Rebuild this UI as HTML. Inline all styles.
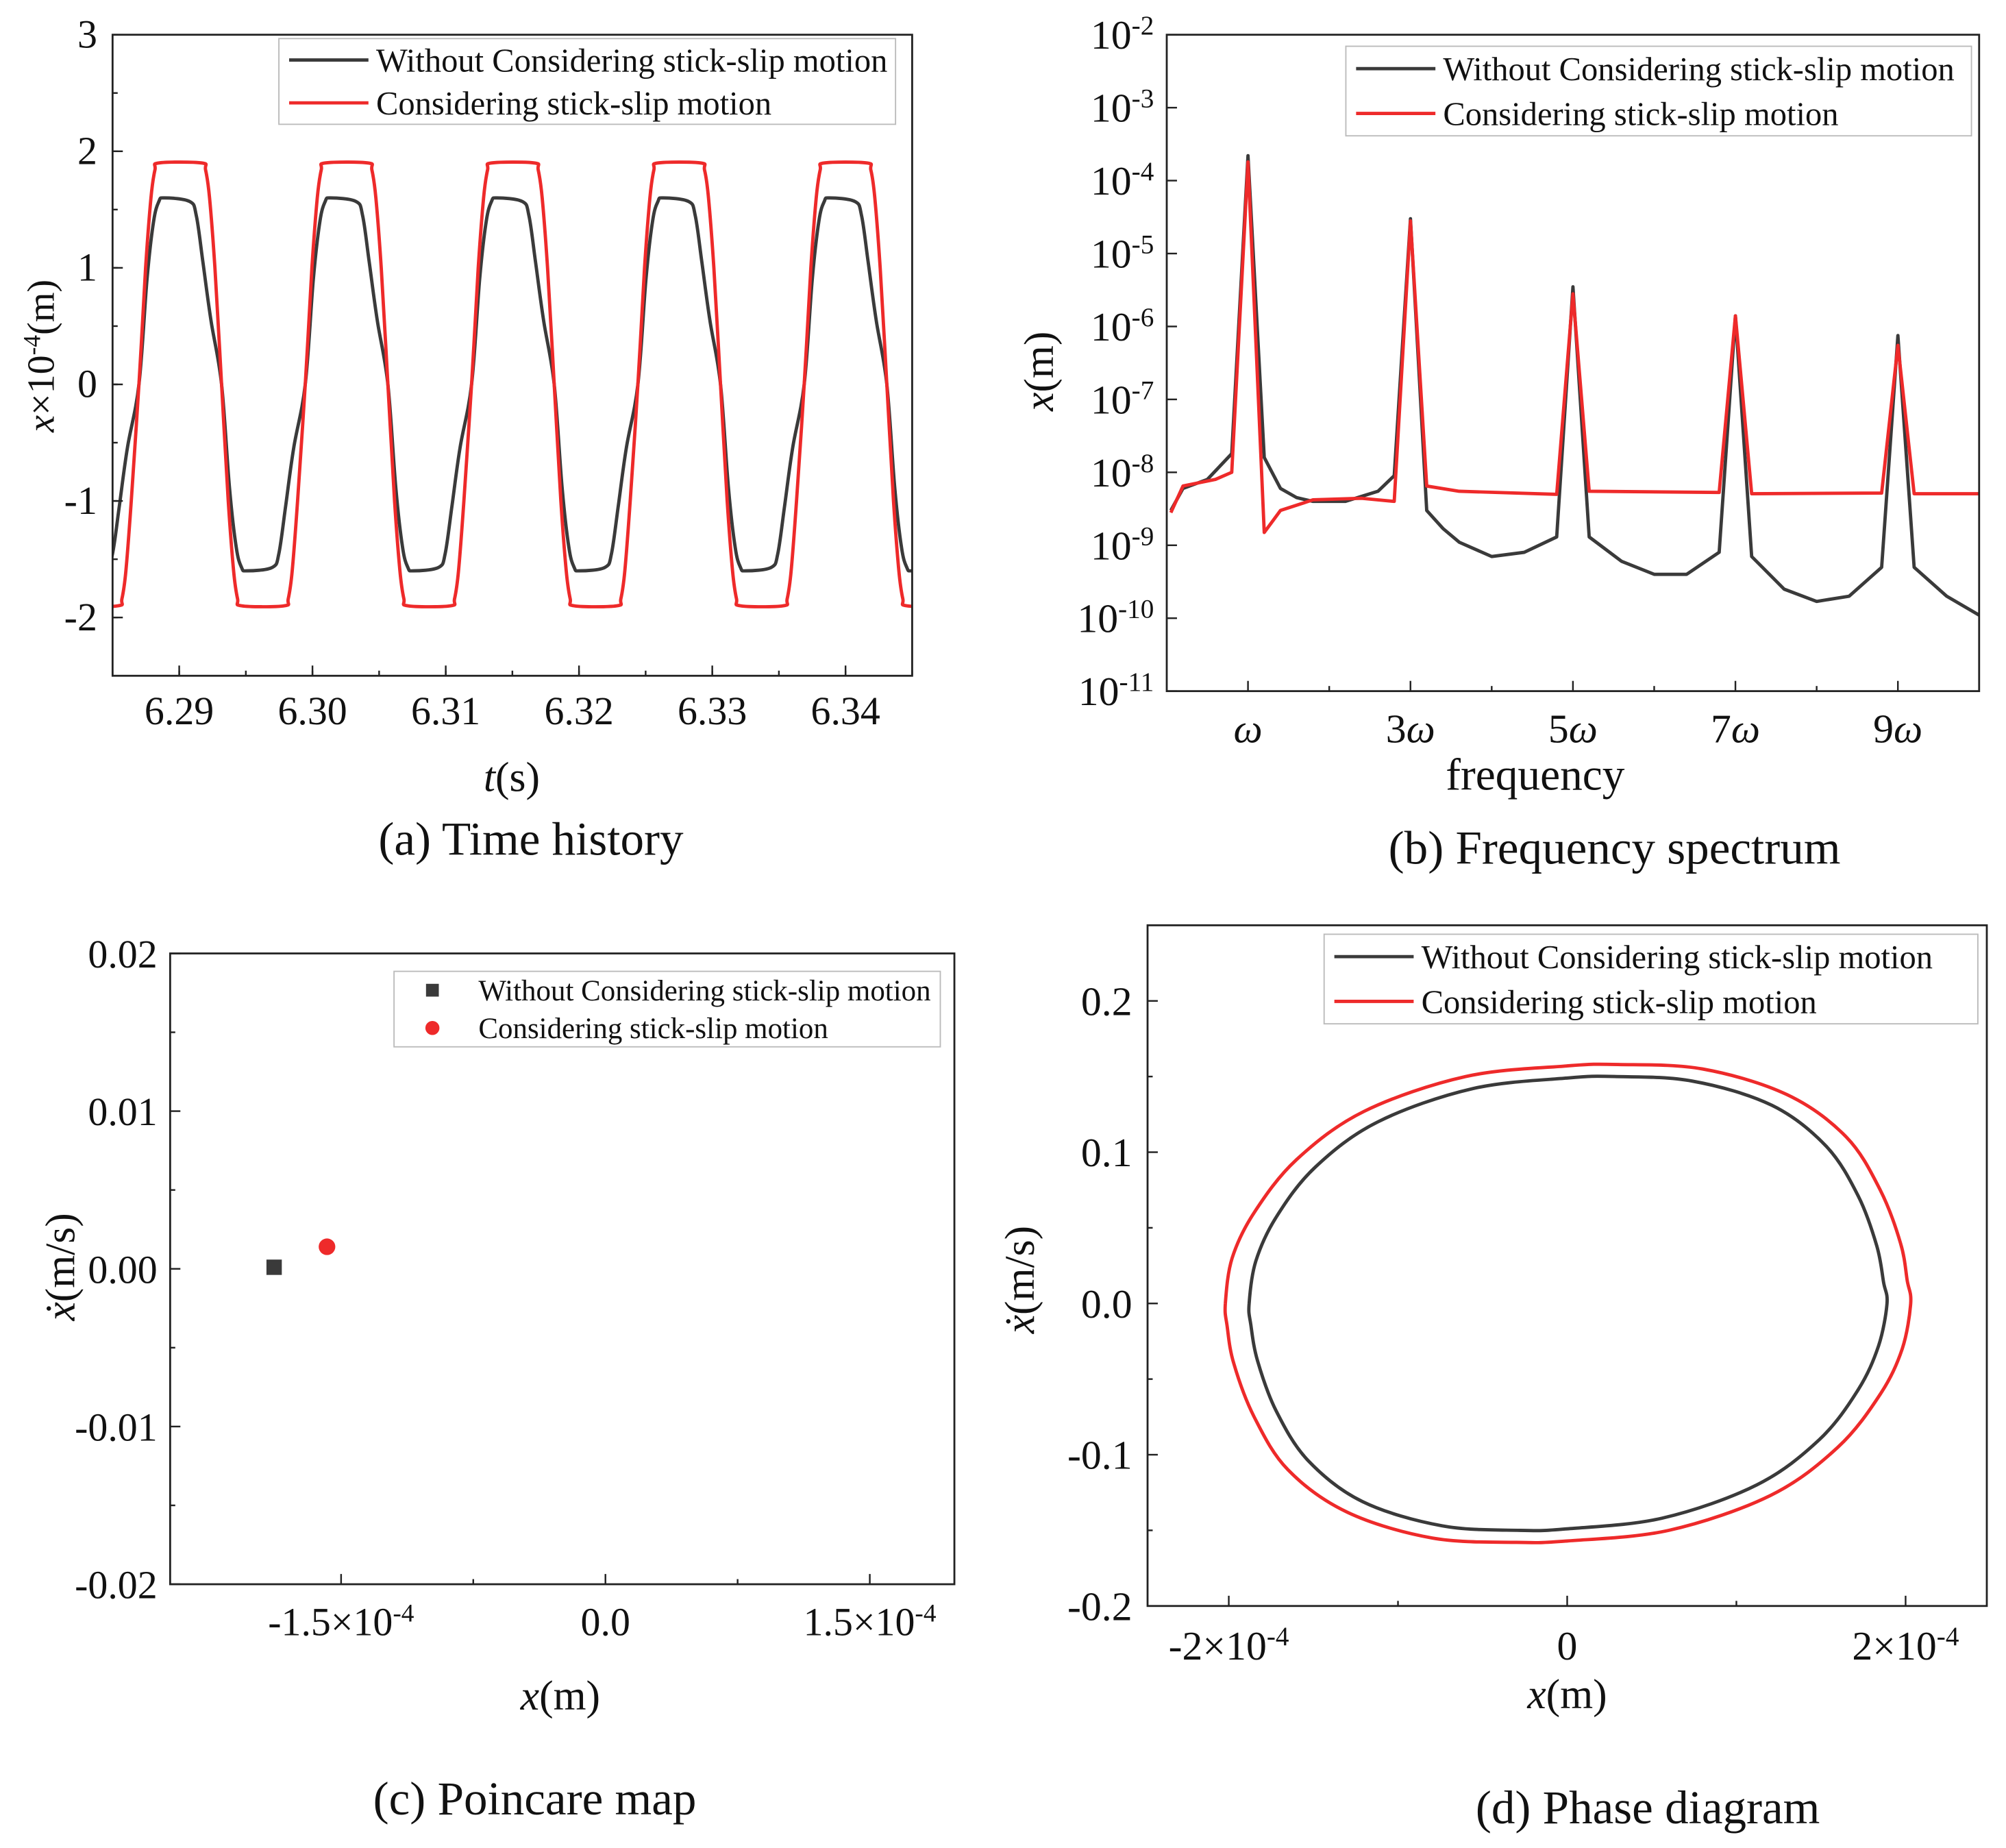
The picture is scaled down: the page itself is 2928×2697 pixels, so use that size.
<!DOCTYPE html>
<html><head><meta charset="utf-8"><style>
html,body{margin:0;padding:0;background:#fff}
svg{display:block}
text{font-family:"Liberation Serif",serif;fill:#111}
</style></head><body>
<svg id="fig" width="2928" height="2697" viewBox="0 0 1568 1444" xmlns="http://www.w3.org/2000/svg"></svg>
<script>
// ---- Panel (a) time history: one cycle shape, repeated by period ----
const aPeriod = 0.01248;
const aStart = 6.2745;
const aCycleT = [0,0.0005,0.0009,0.0012,0.0015,0.0047,0.0050,0.0053,0.0057,0.0062,0.0067,0.0071,0.0074,0.0077,0.0109,0.0112,0.0115,0.0119,0.01248];
const aRedV   = [0,1.0,1.6,1.84,1.9,1.9,1.84,1.6,1.0,0,-1.0,-1.6,-1.84,-1.9,-1.9,-1.84,-1.6,-1.0,0];
const aBlkT   = [0,0.0006,0.0011,0.0015,0.0019,0.0038,0.0043,0.0048,0.0054,0.0062,0.0068,0.0073,0.0077,0.0081,0.0100,0.0105,0.0110,0.0116,0.01248];
const aBlkV   = [0,0.9,1.4,1.57,1.6,1.57,1.45,1.05,0.55,0,-0.9,-1.4,-1.57,-1.6,-1.57,-1.45,-1.05,-0.55,0];
const aXTicks = [6.29,6.30,6.31,6.32,6.33,6.34];
const aYTicks = [-2,-1,0,1,2,3];
// ---- Panel (b) frequency spectrum ----
const bBlkF = [0.05,0.2,0.5,0.8,1.0,1.2,1.4,1.6,1.8,2.2,2.6,2.8,3.0,3.2,3.4,3.6,4.0,4.4,4.8,5.0,5.2,5.6,6.0,6.4,6.8,7.0,7.2,7.6,8.0,8.4,8.8,9.0,9.2,9.6,10];
const bBlkA = [3e-9,6e-9,8e-9,1.8e-8,2.2e-4,1.6e-8,6e-9,4.5e-9,4e-9,4e-9,5.5e-9,9e-9,3e-5,3e-9,1.7e-9,1.1e-9,7e-10,8e-10,1.3e-9,3.5e-6,1.3e-9,6e-10,4e-10,4e-10,8e-10,1.4e-6,7e-10,2.5e-10,1.7e-10,2e-10,5e-10,7.5e-7,5e-10,2e-10,1.1e-10];
const bRedF = [0.05,0.2,0.6,0.8,1.0,1.2,1.4,1.8,2.4,2.8,3.0,3.2,3.6,4.8,5.0,5.2,6.8,7.0,7.2,8.8,9.0,9.2,10];
const bRedA = [2.8e-9,6.5e-9,8e-9,1e-8,1.8e-4,1.5e-9,3e-9,4.2e-9,4.4e-9,4e-9,2.8e-5,6.5e-9,5.5e-9,5e-9,2.8e-6,5.5e-9,5.3e-9,1.4e-6,5.1e-9,5.2e-9,5.5e-7,5.1e-9,5.1e-9];
const bXTicks = [1,3,5,7,9];
const bXLabels = ["ω","3ω","5ω","7ω","9ω"];
const bYExp = [-11,-10,-9,-8,-7,-6,-5,-4,-3,-2];
// ---- Panel (c) Poincare ----
const cBlk = [-1.88e-4, 0.0001];
const cRed = [-1.58e-4, 0.0014];
const cXTicks = [-1.5e-4,0,1.5e-4];
const cXLabels = ["-1.5×10","0.0","1.5×10"];
const cYTicks = [-0.02,-0.01,0,0.01,0.02];
const cYLabels = ["-0.02","-0.01","0.00","0.01","0.02"];
// ---- Panel (d) phase diagram (upper arcs; lower arcs point-symmetric) ----
const dRedX = [-2.02,-1.98,-1.85,-1.6,-1.2,-0.6,0,0.3,0.8,1.3,1.65,1.85,1.97,2.01,2.03];
const dRedV = [0,0.03,0.06,0.095,0.127,0.15,0.157,0.158,0.155,0.138,0.11,0.075,0.04,0.015,0];
const dBlkX = [-1.88,-1.84,-1.72,-1.49,-1.12,-0.56,0,0.28,0.74,1.21,1.53,1.72,1.83,1.87,1.89];
const dBlkV = [0,0.028,0.057,0.09,0.12,0.142,0.149,0.15,0.147,0.131,0.104,0.071,0.038,0.014,0];
const dXTicks = [-2,0,2];
const dYTicks = [-0.2,-0.1,0,0.1,0.2];
const dYLabels = ["-0.2","-0.1","0.0","0.1","0.2"];

const NS="http://www.w3.org/2000/svg";
const svg=document.getElementById('fig');
function el(tag,attrs,parent,txt){const e=document.createElementNS(NS,tag);for(const k in attrs)e.setAttribute(k,attrs[k]);if(txt!==undefined)e.textContent=txt;(parent||svg).appendChild(e);return e;}
function grp(name){const g=el('g',{});


return g;}
function box(g,x0,y0,x1,y1){const r=el('rect',{x:x0,y:y0,width:x1-x0,height:y1-y0,fill:'none',stroke:'#222','stroke-width':1.5},g);

}
function tick(g,x1,y1,x2,y2){el('line',{x1,y1,x2,y2,stroke:'#222','stroke-width':1.3},g);}
function label(g,x,y,t,size,anchor,name,extra){const e=el('text',Object.assign({x,y,'font-size':size,'text-anchor':anchor||'middle'},extra||{}),g,t);

return e;}
function poly(g,pts,color,name,w){const p=el('polyline',{points:pts.map(p=>p[0].toFixed(1)+','+p[1].toFixed(1)).join(' '),fill:'none',stroke:color,'stroke-width':w||2.6,'stroke-linejoin':'round'},g);

}
function smooth(g,pts,color,name,closed){let d='M'+pts[0][0].toFixed(1)+','+pts[0][1].toFixed(1);const n=pts.length;
const P=i=>closed?pts[(i+n)%n]:pts[Math.max(0,Math.min(n-1,i))];
const last=closed?n:n-1;
for(let i=0;i<last;i++){const p0=P(i-1),p1=P(i),p2=P(i+1),p3=P(i+2);
const c1=[p1[0]+(p2[0]-p0[0])/6,p1[1]+(p2[1]-p0[1])/6],c2=[p2[0]-(p3[0]-p1[0])/6,p2[1]-(p3[1]-p1[1])/6];
d+=' C'+c1.map(v=>v.toFixed(1)).join(',')+' '+c2.map(v=>v.toFixed(1)).join(',')+' '+p2[0].toFixed(1)+','+p2[1].toFixed(1);}
const p=el('path',{d,fill:'none',stroke:color,'stroke-width':2.6,'stroke-linejoin':'round'},g);

}
function legend(g,x0,y0,x1,y1,rows,fs,lineLen,markers){const r=el('rect',{x:x0,y:y0,width:x1-x0,height:y1-y0,fill:'#fff',stroke:'#bbb','stroke-width':1},g);


const h=(y1-y0)/rows.length;
rows.forEach((row,i)=>{const cy=y0+h*(i+0.5);const lg=el('g',{},g);


if(markers){if(row[2]==='sq')el('rect',{x:x0+25,y:cy-5,width:10,height:10,fill:row[1]},lg);else el('circle',{cx:x0+30,cy:cy,r:5.5,fill:row[1]},lg);}
else el('line',{x1:x0+8,y1:cy,x2:x0+8+lineLen,y2:cy,stroke:row[1],'stroke-width':2.6},lg);
el('text',{x:x0+(markers?66:lineLen+14),y:cy+fs*0.35,'font-size':fs},lg,row[0]);});}
const BLK='#3a3a3a',RED='#ee2a2a';
const TK=31, AX=33, CAP=37;

// ===== Panel A =====
(function(){const g=grp('panel-a-time-history');
const X0=88,X1=713,Y0=27,Y1=528,tmin=6.285,tmax=6.345,vmin=-2.5,vmax=3;
const sx=t=>X0+(t-tmin)/(tmax-tmin)*(X1-X0), sy=v=>Y1-(v-vmin)/(vmax-vmin)*(Y1-Y0);
function series(T,V){const pts=[];for(let k=0;k<7;k++){T.forEach((t,i)=>{if(k>0&&i===0)return;pts.push([aStart+k*aPeriod+t,V[i]]);});}
return pts.map(p=>[sx(p[0]),sy(p[1])]);}
const cp=el('clipPath',{id:'clipA'},g);el('rect',{x:X0,y:Y0,width:X1-X0,height:Y1-Y0},cp);
const inner=el('g',{'clip-path':'url(#clipA)'},g);
smooth(inner,series(aBlkT,aBlkV),BLK,'series-without-stick-slip');
smooth(inner,series(aCycleT,aRedV),RED,'series-with-stick-slip');
box(g,X0,Y0,X1,Y1);
aXTicks.forEach(t=>{tick(g,sx(t),Y1,sx(t),Y1-8);label(g,sx(t),Y1+38,t.toFixed(2),TK,'middle','x-tick-label');});
for(let t=6.285;t<6.345;t+=0.005){tick(g,sx(t),Y1,sx(t),Y1-4);}
aYTicks.forEach(v=>{tick(g,X0,sy(v),X0+8,sy(v));label(g,X0-12,sy(v)+10,String(v),TK,'end','y-tick-label');});
for(let v=-2.5;v<=3;v+=0.5){tick(g,X0,sy(v),X0+4,sy(v));}
const yl=label(g,0,0,'',30,'middle','y-axis-title',{transform:'translate(42,278) rotate(-90)'});
yl.innerHTML='<tspan font-style="italic">x</tspan>×10<tspan baseline-shift="super" font-size="19">-4</tspan>(m)';
const xl=label(g,400,618,'',AX,'middle','x-axis-title');xl.innerHTML='<tspan font-style="italic">t</tspan>(s)';
legend(g,218,30,700,97,[['Without Considering stick-slip motion',BLK],['Considering stick-slip motion',RED]],26,62);
label(g,415,668,'(a) Time history',CAP,'middle','panel-a-caption');})();

// ===== Panel B =====
(function(){const g=grp('panel-b-frequency-spectrum');
const X0=912,X1=1547,Y0=27,Y1=540,fmin=0,fmax=10,emin=-11,emax=-2;
const sx=f=>X0+(f-fmin)/(fmax-fmin)*(X1-X0), sy=a=>Y1-(Math.log10(a)-emin)/(emax-emin)*(Y1-Y0);
poly(g,bBlkF.map((f,i)=>[sx(f),sy(bBlkA[i])]),BLK,'series-without-stick-slip');
poly(g,bRedF.map((f,i)=>[sx(f),sy(bRedA[i])]),RED,'series-with-stick-slip');
box(g,X0,Y0,X1,Y1);
bXTicks.forEach((f,i)=>{tick(g,sx(f),Y1,sx(f),Y1-8);label(g,sx(f),Y1+40,'',32,'middle','x-tick-label').innerHTML=bXLabels[i].replace('ω','<tspan font-style="italic">ω</tspan>');});
[2,4,6,8].forEach(f=>tick(g,sx(f),Y1,sx(f),Y1-4));
bYExp.forEach(e=>{const y=sy(Math.pow(10,e));tick(g,X0,y,X0+8,y);const t=label(g,X0-10,y+11,'',32,'end','y-tick-label');t.innerHTML='10<tspan baseline-shift="super" font-size="21">'+e+'</tspan>';});
const yl=label(g,0,0,'',AX,'middle','y-axis-title',{transform:'translate(823,290) rotate(-90)'});yl.innerHTML='<tspan font-style="italic">x</tspan>(m)';
label(g,1200,617,'frequency',35,'middle','x-axis-title');
legend(g,1052,36,1541,106,[['Without Considering stick-slip motion',BLK],['Considering stick-slip motion',RED]],26,62);
label(g,1262,675,'(b) Frequency spectrum',CAP,'middle','panel-b-caption');})();

// ===== Panel C =====
(function(){const g=grp('panel-c-poincare-map');
const X0=133,X1=746,Y0=745,Y1=1238,xmin=-2.47e-4,xmax=1.98e-4,vmin=-0.02,vmax=0.02;
const sx=x=>X0+(x-xmin)/(xmax-xmin)*(X1-X0), sy=v=>Y1-(v-vmin)/(vmax-vmin)*(Y1-Y0);
box(g,X0,Y0,X1,Y1);
const s=el('rect',{x:sx(cBlk[0])-6,y:sy(cBlk[1])-6,width:12,height:12,fill:BLK},g);


const c=el('circle',{cx:sx(cRed[0]),cy:sy(cRed[1]),r:6.5,fill:RED},g);


cXTicks.forEach((x,i)=>{tick(g,sx(x),Y1,sx(x),Y1-8);const t=label(g,sx(x),Y1+40,'',TK,'middle','x-tick-label');t.innerHTML=cXLabels[i]+(i!==1?'<tspan baseline-shift="super" font-size="20">-4</tspan>':'');});
[-0.75e-4,0.75e-4].forEach(x=>tick(g,sx(x),Y1,sx(x),Y1-4));
cYTicks.forEach((v,i)=>{tick(g,X0,sy(v),X0+8,sy(v));label(g,X0-10,sy(v)+11,cYLabels[i],TK,'end','y-tick-label');});
[-0.015,-0.005,0.005,0.015].forEach(v=>tick(g,X0,sy(v),X0+4,sy(v)));
const yl=label(g,0,0,'',AX,'middle','y-axis-title',{transform:'translate(58,990) rotate(-90)'});yl.innerHTML='<tspan font-style="italic">ẋ</tspan>(m/s)';
const xl=label(g,438,1336,'',AX,'middle','x-axis-title');xl.innerHTML='<tspan font-style="italic">x</tspan>(m)';
legend(g,308,759,735,818,[['Without Considering stick-slip motion',BLK,'sq'],['Considering stick-slip motion',RED,'ci']],23,0,true);
label(g,418,1418,'(c) Poincare map',CAP,'middle','panel-c-caption');})();

// ===== Panel D =====
(function(){const g=grp('panel-d-phase-diagram');
const X0=897,X1=1553,Y0=723,Y1=1255,xmin=-2.48,xmax=2.48,vmin=-0.2,vmax=0.25;
const sx=x=>X0+(x-xmin)/(xmax-xmin)*(X1-X0), sy=v=>Y1-(v-vmin)/(vmax-vmin)*(Y1-Y0);
function loop(X,V){const up=X.map((x,i)=>[sx(x),sy(V[i])]);const lo=X.slice(1,-1).map((x,i)=>[sx(-x),sy(-V[i+1])]);return up.concat(lo);}
smooth(g,loop(dBlkX,dBlkV),BLK,'orbit-without-stick-slip',true);
smooth(g,loop(dRedX,dRedV),RED,'orbit-with-stick-slip',true);
box(g,X0,Y0,X1,Y1);
dXTicks.forEach(x=>{tick(g,sx(x),Y1,sx(x),Y1-8);const t=label(g,sx(x),Y1+42,'',32,'middle','x-tick-label');t.innerHTML=x===0?'0':(x<0?'-':'')+'2×10<tspan baseline-shift="super" font-size="21">-4</tspan>';});
[-1,1].forEach(x=>tick(g,sx(x),Y1,sx(x),Y1-4));
dYTicks.forEach((v,i)=>{tick(g,X0,sy(v),X0+8,sy(v));label(g,X0-12,sy(v)+11,dYLabels[i],32,'end','y-tick-label');});
[-0.15,-0.05,0.05,0.15].forEach(v=>tick(g,X0,sy(v),X0+4,sy(v)));
const yl=label(g,0,0,'',AX,'middle','y-axis-title',{transform:'translate(808,1000) rotate(-90)'});yl.innerHTML='<tspan font-style="italic">ẋ</tspan>(m/s)';
const xl=label(g,1225,1335,'',AX,'middle','x-axis-title');xl.innerHTML='<tspan font-style="italic">x</tspan>(m)';
legend(g,1035,730,1546,800,[['Without Considering stick-slip motion',BLK],['Considering stick-slip motion',RED]],26,62);
label(g,1288,1425,'(d) Phase diagram',CAP,'middle','panel-d-caption');})();
</script>
</body></html>
